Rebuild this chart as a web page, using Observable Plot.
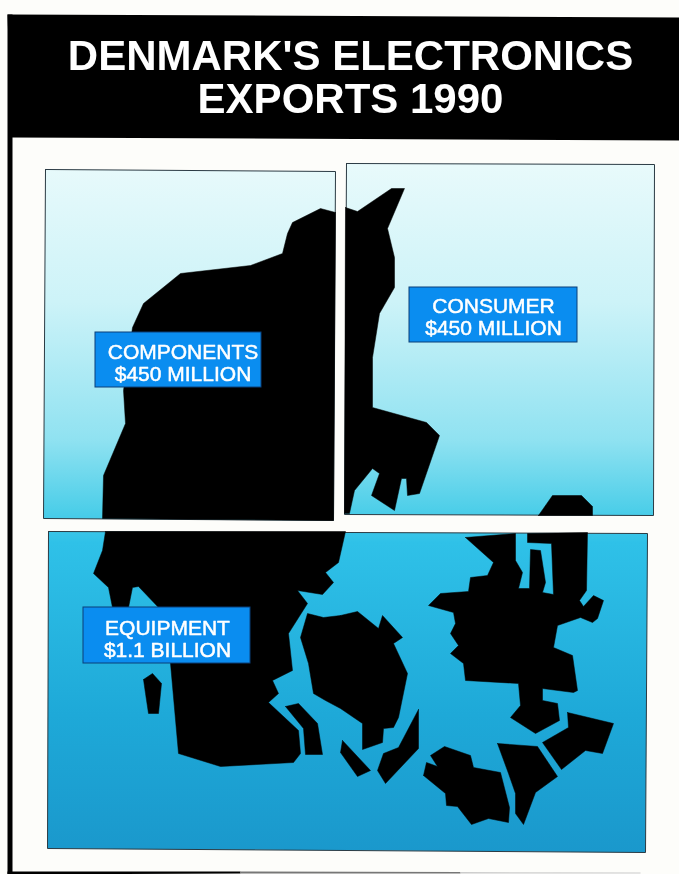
<!DOCTYPE html>
<html><head><meta charset="utf-8">
<style>html,body{margin:0;padding:0;background:#fdfdfa}svg{display:block;filter:blur(0.45px)}</style>
<script src="https://cdn.jsdelivr.net/npm/d3@7"></script>
<script src="https://cdn.jsdelivr.net/npm/@observablehq/plot@0.6"></script>
</head><body><script>
const titleLines = ["DENMARK'S ELECTRONICS", "EXPORTS 1990"];
const titleBaselines = [69.5, 112];
const categories = ["COMPONENTS", "CONSUMER", "EQUIPMENT"];
const amounts = ["$450 MILLION", "$450 MILLION", "$1.1 BILLION"];
// Picture-space outlines
const headerBand = [[7,14],[679,17],[679,140],[11,137]];
const leftRule = [[7,14],[12,14],[12,874],[7,874]];
const bottomRuleDark = [[7,871],[240,871],[240,873],[7,874]];
const bottomRuleMid = [[240,871],[460,871.5],[460,873],[240,873]];
const bottomRuleLight = [[460,871.5],[640,872],[640,873],[460,873]];
const panelComponents = [[45,169],[335,171],[333,520],[43,518]];
const panelConsumer = [[346,163],[654,164],[653,515],[344,514]];
const panelEquipment = [[48,531],[647,533],[645,852],[47,848]];
const labelBoxes = [[95,332,261,387],[409,287,577,342],[83,607,250,663]];
const labelCentres = [[182.5,358,380],[493,312,334],[167,634,656]];
const jutlandNorth = [[335,212],[320,208],[292,222],[287,233],[282,253],[250,265],[180,273],[143,303],[132,327],[123,390],[125,423],[103,475],[102,518],[333,520]];
const jutlandCentre = [[345,207],[357,211],[391,188],[404,188],[387,228],[394,257],[394,287],[379,313],[372,357],[372,407],[426,422],[439,435],[419,493],[407,495],[406,478],[401,478],[394,510],[371,495],[379,473],[372,468],[354,490],[349,513],[344,513]];
const zealandTip = [[538,515],[552,495],[581,495],[592,506],[592,515]];
const jutlandSouth = [[105,531],[102,550],[93,573],[108,587],[112,607],[128,607],[132,587],[138,586],[158,607],[170,663],[178,753],[220,766],[293,762],[300,753],[298,730],[268,702],[278,693],[272,680],[292,670],[288,633],[307,603],[297,590],[322,594],[333,582],[325,572],[338,562],[345,531]];
const funen = [[340,615],[357,611],[378,628],[382,615],[402,637],[393,643],[407,673],[398,717],[393,727],[383,728],[382,742],[362,749],[362,723],[340,708],[325,700],[313,693],[308,663],[300,637],[307,613],[323,617]];
const als = [[285,706],[298,703],[317,723],[322,754],[305,754],[303,728]];
const fano = [[143,679],[152,673],[161,683],[158,713],[148,713],[145,693]];
const aero = [[342,740],[370,770],[357,776],[340,752]];
const langeland = [[418,709],[418,748],[385,783],[377,770],[383,753],[398,747]];
const lolland = [[423,775],[426,762],[437,766],[430,755],[444,746],[470,755],[473,767],[500,772],[509,807],[508,822],[488,818],[471,824],[457,806],[446,805],[445,793]];
const falster = [[497,743],[537,746],[557,776],[535,792],[523,824],[515,813],[515,793],[508,773]];
const mon = [[567,712],[613,723],[602,753],[585,750],[561,769],[542,742],[568,727]];
const zealand = [[465,537],[515,533],[515,560],[522,572],[518,588],[529,588],[530,549],[540,550],[545,582],[542,592],[553,594],[551,543],[527,542],[527,533],[587,532],[586,590],[579,600],[583,606],[593,595],[603,600],[597,618],[592,622],[580,617],[557,625],[553,647],[572,655],[577,690],[573,692],[542,688],[542,700],[557,703],[559,720],[535,733],[510,717],[520,705],[518,683],[465,680],[463,663],[450,653],[458,645],[450,633],[455,623],[453,612],[428,605],[440,593],[468,591],[470,577],[487,575],[493,562]];
const gradientStops = [[0,"#e8fafb"],[0.2,"#cdf3f8"],[0.4,"#90e2f1"],[0.5,"#4fcfe9"],[0.55,"#2fc1e8"],[0.8,"#1ea9d8"],[1,"#1a98cc"]];

const rows = (list) => list.flatMap((pts, id) => [...pts, pts[0]].map(([x, y]) => ({x, y, id})));
const land = [jutlandNorth, jutlandCentre, zealandTip, jutlandSouth, funen, als, fano, aero, langeland, lolland, falster, mon, zealand];
const panels = [panelComponents, panelConsumer, panelEquipment];
const labelRows = categories.flatMap((c, i) => [
  {t: c, x: labelCentres[i][0], y: labelCentres[i][1]},
  {t: amounts[i], x: labelCentres[i][0], y: labelCentres[i][2]}]);
const titleRows = titleLines.map((t, i) => ({t, x: 350, y: titleBaselines[i]}));
const font = "'Liberation Sans', Arial, sans-serif";

const chart = Plot.plot({
  width: 679, height: 874, margin: 0,
  style: {background: "#fdfdfa", fontFamily: font},
  x: {domain: [0, 679], range: [0, 679], axis: null},
  y: {domain: [0, 874], range: [0, 874], axis: null},
  marks: [
    () => {
      const ns = "http://www.w3.org/2000/svg";
      const defs = document.createElementNS(ns, "defs");
      const g = document.createElementNS(ns, "linearGradient");
      g.setAttribute("id", "sky");
      g.setAttribute("gradientUnits", "userSpaceOnUse");
      g.setAttribute("x1", 0); g.setAttribute("x2", 0);
      g.setAttribute("y1", 163); g.setAttribute("y2", 852);
      for (const [o, c] of gradientStops) {
        const s = document.createElementNS(ns, "stop");
        s.setAttribute("offset", o); s.setAttribute("stop-color", c);
        g.appendChild(s);
      }
      defs.appendChild(g);
      return defs;
    },
    Plot.line(rows([headerBand, leftRule, bottomRuleDark]), {x: "x", y: "y", z: "id", fill: "#000", stroke: null}),
    Plot.line(rows([bottomRuleMid]), {x: "x", y: "y", z: "id", fill: "#777", stroke: null}),
    Plot.line(rows([bottomRuleLight]), {x: "x", y: "y", z: "id", fill: "#ccc", stroke: null}),
    Plot.line(rows(panels), {x: "x", y: "y", z: "id", fill: "url(#sky)", stroke: "#2b3b44", strokeWidth: 1}),
    Plot.line(rows(land), {x: "x", y: "y", z: "id", fill: "#000", stroke: "#000", strokeWidth: 0.5}),
    Plot.rect(labelBoxes, {x1: "0", y1: "1", x2: "2", y2: "3", fill: "#0a8df0", stroke: "#0b3f78", strokeWidth: 1}),
    Plot.text(labelRows, {x: "x", y: "y", text: "t", fill: "#fff", stroke: "#fff", strokeWidth: 0.5, fontSize: 21, lineAnchor: "bottom", fontFamily: font}),
    Plot.text(titleRows, {x: "x", y: "y", text: "t", fill: "#fff", fontSize: 42, fontWeight: 700, lineAnchor: "bottom", fontFamily: font})
  ]
});
document.body.appendChild(chart);
</script></body></html>
